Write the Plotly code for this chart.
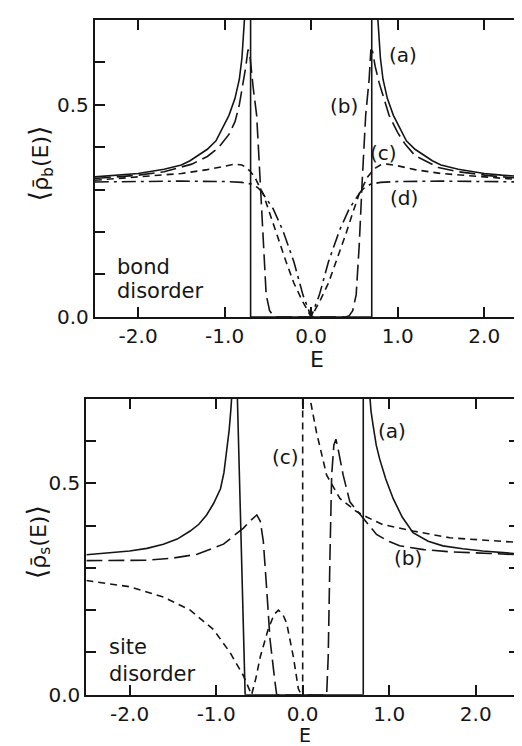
import plotly.graph_objects as go

# ---------------- data ----------------
# top panel: bond disorder
bond_a_E = [-2.5, -2.2, -2.0, -1.7, -1.5, -1.4, -1.2, -1.1, -1.05, -0.95, -0.88, -0.83, -0.80, -0.78, -0.765,
            -0.70, -0.70, 0.70, 0.70,
            0.765, 0.78, 0.80, 0.83, 0.88, 0.95, 1.05, 1.1, 1.2, 1.4, 1.5, 1.7, 2.0, 2.2, 2.5]
bond_a_v = [0.330, 0.334, 0.338, 0.348, 0.358, 0.368, 0.395, 0.415, 0.435, 0.475, 0.515, 0.56, 0.61, 0.66, 0.72,
            0.72, 0.0, 0.0, 0.72,
            0.72, 0.66, 0.61, 0.56, 0.515, 0.475, 0.435, 0.415, 0.395, 0.368, 0.358, 0.348, 0.338, 0.334, 0.330]

bond_b_E = [-2.5, -2.0, -1.7, -1.38, -1.2, -1.07, -0.95, -0.88, -0.83, -0.785, -0.755, -0.73,
            -0.71, -0.67, -0.63, -0.61, -0.59, -0.555, -0.52, -0.48, -0.44, -0.40,
            0.40, 0.44, 0.48, 0.52, 0.555, 0.59, 0.61, 0.63, 0.67, 0.69,
            0.71, 0.74, 0.785, 0.9, 1.0, 1.09, 1.2, 1.47, 1.7, 2.05, 2.5]
bond_b_v = [0.326, 0.334, 0.342, 0.36, 0.378, 0.399, 0.43, 0.46, 0.50, 0.552, 0.59, 0.63,
            0.62, 0.54, 0.475, 0.40, 0.321, 0.168, 0.052, 0.015, 0.003, 0.0,
            0.0, 0.003, 0.015, 0.052, 0.168, 0.321, 0.40, 0.475, 0.56, 0.63,
            0.625, 0.59, 0.552, 0.475, 0.434, 0.406, 0.38, 0.352, 0.342, 0.333, 0.325]

bond_c_E = [-2.5, -2.0, -1.5, -1.2, -1.0, -0.88, -0.8, -0.75, -0.70, -0.65, -0.6, -0.555,
            -0.48, -0.4, -0.29, -0.2, -0.1, 0.0,
            0.1, 0.2, 0.29, 0.4, 0.48, 0.555, 0.6, 0.65, 0.70, 0.75, 0.8, 0.88, 1.0,
            1.2, 1.5, 2.0, 2.5]
bond_c_v = [0.322, 0.33, 0.338, 0.347, 0.356, 0.36, 0.358, 0.352, 0.342, 0.329, 0.308, 0.29,
            0.245, 0.195, 0.13, 0.08, 0.037, 0.0,
            0.037, 0.08, 0.13, 0.195, 0.245, 0.29, 0.308, 0.329, 0.342, 0.352, 0.358, 0.36,
            0.356, 0.347, 0.338, 0.33, 0.322]

bond_d_E = [-2.5, -1.5, -1.0, -0.8, -0.69, -0.62, -0.575, -0.52, -0.44, -0.33, -0.2, -0.095, 0.0,
            0.095, 0.2, 0.33, 0.44, 0.52, 0.575, 0.62, 0.69, 0.8, 1.0, 1.5, 2.5]
bond_d_v = [0.318, 0.32, 0.319, 0.317, 0.313, 0.305, 0.296, 0.28, 0.255, 0.205, 0.13, 0.052, 0.0,
            0.052, 0.13, 0.205, 0.255, 0.28, 0.296, 0.305, 0.313, 0.317, 0.319, 0.32, 0.318]

# bottom panel: site disorder
site_a_E = [-2.5, -2.2, -2.0, -1.8, -1.61, -1.45, -1.3, -1.2, -1.11, -1.03, -0.95, -0.91, -0.877, -0.85,
            -0.83, -0.815,
            -0.757, -0.665, 0.70, 0.70,
            0.77, 0.776, 0.79, 0.815, 0.85, 0.89, 0.96, 1.045, 1.15, 1.275, 1.45, 1.62, 1.85, 2.08, 2.5]
site_a_v = [0.331, 0.336, 0.34, 0.346, 0.356, 0.368, 0.387, 0.403, 0.425, 0.452, 0.487, 0.525, 0.573, 0.625,
            0.674, 0.72,
            0.72, 0.0, 0.0, 0.72,
            0.72, 0.70, 0.67, 0.635, 0.59, 0.557, 0.51, 0.464, 0.42, 0.383, 0.363, 0.352, 0.345, 0.34, 0.333]

site_b_E = [-2.5, -1.8, -1.5, -1.22, -0.915, -0.685, -0.6, -0.53, -0.49, -0.455, -0.415, -0.377,
            -0.32, -0.3, 0.277, 0.295, 0.315, 0.335, 0.36, 0.384, 0.41, 0.468, 0.545,
            0.70, 0.815, 0.853, 1.0, 1.12, 1.4, 1.70, 2.16, 2.5]
site_b_v = [0.317, 0.318, 0.323, 0.332, 0.356, 0.394, 0.412, 0.425, 0.41, 0.363, 0.247, 0.13,
            0.03, 0.0, 0.0, 0.09, 0.325, 0.519, 0.59, 0.604, 0.58, 0.519, 0.456,
            0.418, 0.39, 0.379, 0.362, 0.352, 0.343, 0.338, 0.334, 0.331]

site_c_E = [-2.5, -1.99, -1.61, -1.3, -1.03, -0.84, -0.685, -0.62, -0.59, -0.54, -0.49,
            -0.40, -0.33, -0.28, -0.23, -0.185, -0.108, -0.05, -0.02, 0.0, 0.0,
            0.075, 0.085, 0.16, 0.277, 0.43, 0.623, 0.74, 0.93, 1.275, 1.70, 2.5]
site_c_v = [0.27, 0.255, 0.231, 0.2, 0.154, 0.1, 0.045, 0.012, 0.0, 0.04, 0.09,
            0.154, 0.19, 0.2, 0.19, 0.169, 0.09, 0.014, 0.002, 0.0, 0.75,
            0.75, 0.70, 0.62, 0.519, 0.464, 0.433, 0.42, 0.402, 0.387, 0.371, 0.36]

x_tick_vals = [-2.0, -1.0, 0.0, 1.0, 2.0]
x_tick_text = ["-2.0", "-1.0", "0.0", "1.0", "2.0"]
y_tick_vals = [0.0, 0.5]
y_tick_text = ["0.0", "0.5"]
y_minor_step = 0.1

# ---------------- figure ----------------
W, H = 522, 746
INK = "#151515"
FONT = "DejaVu Sans"

LONG = "16px,6px"
SHORT = "7px,5px"
DASHDOT = "14px,5px,3px,5px"

fig = go.Figure()

def add(E, v, dash, xa, ya):
    fig.add_trace(go.Scatter(x=E, y=v, mode="lines", xaxis=xa, yaxis=ya,
                             line=dict(color=INK, width=1.6, dash=dash),
                             showlegend=False, hoverinfo="skip"))

add(bond_a_E, bond_a_v, "solid", "x", "y")
add(bond_b_E, bond_b_v, LONG, "x", "y")
add(bond_c_E, bond_c_v, SHORT, "x", "y")
add(bond_d_E, bond_d_v, DASHDOT, "x", "y")
add(site_a_E, site_a_v, "solid", "x2", "y2")
add(site_b_E, site_b_v, LONG, "x2", "y2")
add(site_c_E, site_c_v, SHORT, "x2", "y2")

axis_common = dict(showline=True, linewidth=2, linecolor=INK, mirror="ticks",
                   ticks="inside", ticklen=10, tickwidth=1.5, tickcolor=INK,
                   showgrid=False, zeroline=False,
                   tickfont=dict(family=FONT, size=20, color=INK))
y_minor = dict(tick0=0, dtick=y_minor_step, ticks="inside", ticklen=10, tickwidth=1.5,
               tickcolor=INK, showgrid=False)

fig.update_layout(
    width=W, height=H,
    margin=dict(l=0, r=0, t=0, b=0),
    paper_bgcolor="white", plot_bgcolor="white",
    font=dict(family=FONT, size=20, color=INK),
    xaxis=dict(domain=[87 / W, 520.5 / W], range=[-2.5, 2.5], anchor="y",
               tickvals=x_tick_vals, ticktext=x_tick_text, **axis_common),
    yaxis=dict(domain=[1 - 314 / H, 1 - 12 / H], range=[0, 0.7], anchor="x",
               tickvals=y_tick_vals, ticktext=y_tick_text, minor=y_minor, **axis_common),
    xaxis2=dict(domain=[78.5 / W, 512 / W], range=[-2.5, 2.5], anchor="y2",
                tickvals=x_tick_vals, ticktext=x_tick_text, **axis_common),
    yaxis2=dict(domain=[1 - 698 / H, 1 - 397 / H], range=[0, 0.7], anchor="x2",
                tickvals=y_tick_vals, ticktext=y_tick_text, minor=y_minor, **axis_common),
)

def label(text, x, y, xref, yref, size=20, xanchor="center", angle=0, height=None):
    fig.add_annotation(text=text, x=x, y=y, xref=xref, yref=yref, showarrow=False,
                       xanchor=xanchor, yanchor="middle", textangle=angle,
                       height=height, borderpad=0,
                       font=dict(family=FONT, size=size, color=INK))

# curve labels, top
label("(a)", 1.06, 0.618, "x", "y")
label("(b)", 0.38, 0.497, "x", "y")
label("(c)", 0.84, 0.386, "x", "y")
label("(d)", 1.07, 0.28, "x", "y")
label("bond", -2.26, 0.118, "x", "y", size=21, xanchor="left")
label("disorder", -2.26, 0.062, "x", "y", size=21, xanchor="left")

# curve labels, bottom
label("(a)", 1.03, 0.623, "x2", "y2")
label("(b)", 1.22, 0.324, "x2", "y2")
label("(c)", -0.2, 0.561, "x2", "y2")
label("site", -2.245, 0.112, "x2", "y2", size=21, xanchor="left")
label("disorder", -2.245, 0.049, "x2", "y2", size=21, xanchor="left")

# axis titles
rho = "\u03c1\u0304"
big = '<span style="font-size:27px">'
label(big + "\u27e8</span>" + rho + "<sub>b</sub>(E)" + big + "\u27e9</span>",
      33 / W, 1 - 158 / H, "paper", "paper", size=22, angle=-90)
label(big + "\u27e8</span>" + rho + "<sub>s</sub>(E)" + big + "\u27e9</span>",
      30 / W, 1 - 543 / H, "paper", "paper", size=22, angle=-90)
label("E", 310 / W, 1 - 357 / H, "paper", "paper", size=22)
label("E", 298 / W, 1 - 739 / H, "paper", "paper", size=19, height=16)

fig.write_html("out.html")
